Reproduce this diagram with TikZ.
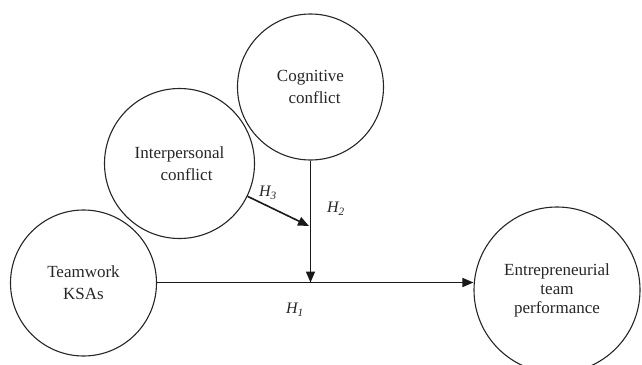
\documentclass[tikz,border=0pt]{standalone}
\usepackage{fontspec}
\setmainfont{Liberation Serif}
\usetikzlibrary{arrows.meta}
\begin{document}
\begin{tikzpicture}[x=1pt,y=-1pt,
  var/.style={draw=black!85, line width=1.1pt, circle, inner sep=0pt, align=center,
    font=\fontsize{17}{22}\selectfont, text=black!85},
  link/.style={draw=black!90, line width=1.6pt, -{Triangle[length=11pt,width=9pt]}},
  hyp/.style={font=\fontsize{16}{18}\selectfont\itshape, text=black!85, inner sep=0pt}]
\useasboundingbox (0,0) rectangle (642,364);
\node[var, minimum size=146pt] (cog) at (310.5,87) {Cognitive\\\hspace*{8pt}conflict};
\node[var, minimum size=150pt] (ip) at (179.5,163.5) {Interpersonal\\\hspace*{14pt}conflict};
\node[var, minimum size=146pt] (tw) at (83.5,283) {Teamwork\\KSAs};
\node[var, minimum size=166pt, font=\fontsize{17}{19}\selectfont] (etp) at (557,290) {Entrepreneurial\\team\\performance};
\coordinate (j) at (310,282.5);
\coordinate (m) at (309,226);
\draw[link] (cog.south) -- (cog.south |- j);
\draw[link] (tw.east |- j) -- (etp.west |- j);
\draw[link] (ip) -- (m);
\node[hyp] (h3) at (268,193) {H\textsubscript{3}};
\node[hyp] (h2) at (336,209) {H\textsubscript{2}};
\node[hyp] (h1) at (295,310) {H\textsubscript{1}};
\end{tikzpicture}
\end{document}
